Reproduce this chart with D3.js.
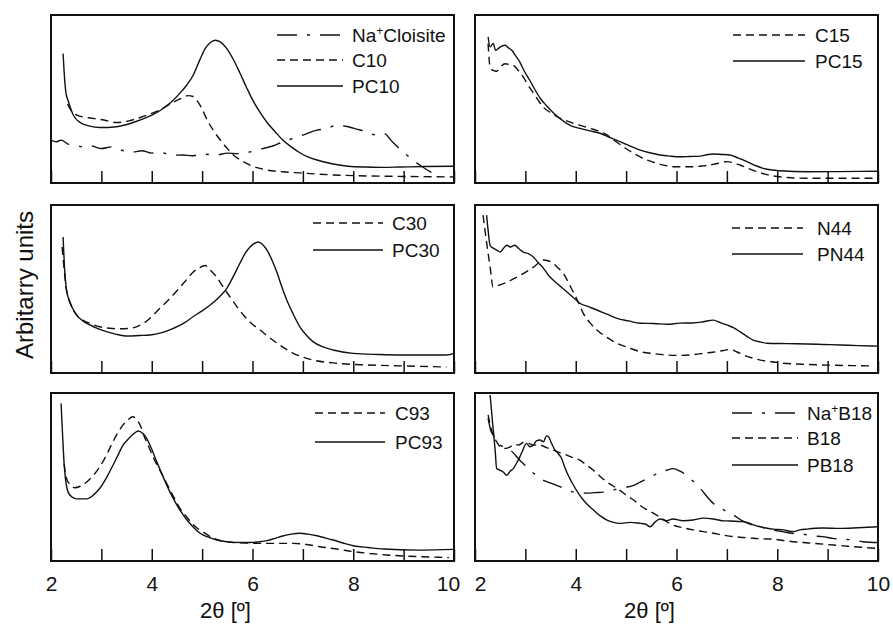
<!DOCTYPE html>
<html><head><meta charset="utf-8">
<script src="https://cdn.jsdelivr.net/npm/d3@7"></script>
<style>
body{margin:0;background:#fff}
text{font-family:"Liberation Sans",Arial,sans-serif;fill:#111}
</style>
</head><body>
<svg id="chart" width="893" height="626"></svg>
<script>
// ---------------- DATA (2θ in degrees, intensity in arbitrary units 0-100 per panel) ----------------
const xTicks = [2,3,4,5,6,7,8,9,10];
const xTickLabels = [2,4,6,8,10];
const xTitle = "2θ [º]";
const yTitle = "Arbitarry units";

// Panel 1
const NaCloisite = [[2.0,25.6],[2.1,24.5],[2.2,25.5],[2.35,23],[2.5,22.5],[2.64,21.4],[2.8,22],[3.0,20.5],[3.2,21.5],[3.4,19.5],[3.63,18.5],[3.8,19.2],[4.0,17.8],[4.2,18],[4.4,16.5],[4.62,16.7],[4.8,16.2],[5.0,17.2],[5.29,16.7],[5.5,17.8],[5.7,17.5],[5.95,18.5],[6.2,20.5],[6.4,22],[6.6,24.4],[6.8,26.5],[7.0,28.5],[7.28,31.5],[7.45,32.2],[7.68,34.5],[7.85,33.8],[8.0,32.7],[8.2,31],[8.47,28.6],[8.6,29.5],[8.8,23.8],[9.06,16.7],[9.32,10.7],[9.55,6.3]];
const C10 = [[2.33,47],[2.4,43],[2.55,40],[2.83,38.5],[3.05,37.5],[3.3,36],[3.55,37],[3.77,39],[4.0,41.5],[4.16,43.5],[4.42,48],[4.6,50.5],[4.72,52],[4.82,51.5],[4.9,49],[5.0,44],[5.1,37.5],[5.23,31],[5.36,25.6],[5.5,20.5],[5.62,16.7],[5.8,13],[5.95,10.7],[6.29,7.7],[6.6,6.7],[6.94,6],[7.6,4.8],[8.27,4.2],[9.0,3.9],[10,3.6]];
const PC10 = [[2.24,77],[2.27,62],[2.3,53],[2.34,49],[2.45,40],[2.58,36],[2.75,34],[2.97,33],[3.3,33.5],[3.63,36],[3.9,39],[4.16,43],[4.4,48.5],[4.56,53.5],[4.7,58.5],[4.82,64],[4.95,73],[5.06,80],[5.16,83.5],[5.26,85],[5.36,84],[5.49,80],[5.62,73.5],[5.75,65.5],[5.88,57],[6.01,49],[6.15,42],[6.29,36],[6.45,30.5],[6.6,25.6],[6.77,21.5],[6.94,18],[7.1,15.5],[7.28,13.7],[7.6,11.3],[7.9,10],[8.27,9.5],[8.6,9.3],[8.93,9.5],[9.4,9.8],[10,10]];

// Panel 2
const C15 = [[2.26,83],[2.3,69],[2.36,67],[2.43,66.5],[2.5,69],[2.6,71],[2.68,70.5],[2.76,70],[2.86,67],[2.96,63],[3.06,58],[3.16,53.5],[3.26,49],[3.36,45],[3.52,41.5],[3.69,38.5],[3.82,37],[3.96,35.5],[4.12,34],[4.28,32.5],[4.45,31],[4.62,28.6],[4.78,25],[4.95,21.5],[5.12,18.2],[5.28,15.6],[5.45,13.3],[5.61,11.7],[5.77,10.5],[5.93,9.7],[6.33,9.7],[6.53,10.2],[6.73,11.1],[6.87,12],[7.0,12.7],[7.13,12],[7.26,10.7],[7.43,8.6],[7.6,6.7],[7.76,5.3],[7.92,4.2],[8.2,3.3],[8.59,2.8],[9.3,2.8],[10,2.8]];
const PC15 = [[2.26,87],[2.3,81],[2.36,83],[2.41,79],[2.46,80],[2.53,81.5],[2.6,82],[2.66,80.5],[2.73,79],[2.8,76],[2.89,72],[2.98,66.5],[3.09,61],[3.19,55.5],[3.29,50.6],[3.42,46],[3.55,42],[3.68,38.5],[3.82,35.5],[3.95,33.5],[4.08,32.5],[4.28,31],[4.48,29.6],[4.68,27],[4.88,24.6],[5.08,22],[5.28,19.6],[5.47,18],[5.67,16.7],[5.87,16],[6.07,15.6],[6.27,15.8],[6.47,16],[6.6,16.8],[6.73,17.3],[6.9,17],[7.06,16.7],[7.23,14.8],[7.4,12.7],[7.56,10.5],[7.72,8.7],[7.9,7.7],[8.06,7.3],[8.59,6.7],[9.2,6.8],[10,7]];

// Panel 3
const C30 = [[2.22,75],[2.26,62],[2.3,51],[2.38,42],[2.51,34.5],[2.63,31.5],[2.77,29.6],[2.97,27.5],[3.17,26.6],[3.37,26.3],[3.57,26.6],[3.72,27.8],[3.84,29.6],[4.0,33.5],[4.16,38.5],[4.33,43.5],[4.5,49],[4.66,54.5],[4.82,60],[4.94,62.5],[5.06,64],[5.17,61],[5.29,57],[5.42,51],[5.56,45],[5.69,39.5],[5.82,34.5],[5.98,29.5],[6.15,25.6],[6.32,21.5],[6.49,17.7],[6.65,14.5],[6.81,11.7],[7.0,9.5],[7.2,7.7],[7.6,6],[8.27,4.8],[9.0,4.2],[9.85,3.6]];
const PC30 = [[2.24,81],[2.27,62],[2.3,51],[2.34,45],[2.42,39],[2.51,34.5],[2.63,31],[2.77,28.6],[2.93,26.4],[3.1,24.6],[3.3,23],[3.53,22],[3.75,22.3],[3.97,22.6],[4.2,24],[4.43,26.6],[4.63,29.5],[4.82,33.5],[5.0,37],[5.16,40.5],[5.33,45],[5.49,50.4],[5.62,57.5],[5.75,65.3],[5.85,71],[5.95,75],[6.03,77],[6.11,78],[6.2,76.5],[6.29,73],[6.39,67],[6.49,59.5],[6.58,51.5],[6.68,43.5],[6.81,35],[6.94,27.5],[7.07,22.5],[7.2,18.7],[7.4,15.5],[7.6,13.7],[8.0,11.7],[8.5,11],[8.93,10.7],[9.59,10.7],[9.85,10.7],[10,11.7]];

// Panel 4
const N44 = [[2.16,94],[2.22,80],[2.3,63],[2.36,51],[2.45,52],[2.63,54],[2.76,56],[2.89,58],[3.03,60.5],[3.16,63],[3.26,65.5],[3.36,67.3],[3.45,66.8],[3.55,65.3],[3.65,62.5],[3.75,59.5],[3.86,53.5],[3.96,47.6],[4.06,41.5],[4.15,35.5],[4.28,30],[4.42,25.6],[4.62,21.2],[4.82,17.7],[5.05,15],[5.28,12.7],[5.55,11.5],[5.81,10.7],[6.07,10.5],[6.33,10.9],[6.57,11.8],[6.8,12.7],[6.93,13.4],[7.06,14],[7.2,12.5],[7.33,10.7],[7.5,9],[7.66,7.7],[7.86,6.8],[8.06,6],[8.5,5.2],[9.0,4.7],[9.5,4.4],[9.9,4.2]];
const PN44 = [[2.23,94],[2.26,85],[2.3,76],[2.38,74],[2.44,73],[2.5,72],[2.56,74],[2.63,76],[2.7,75],[2.79,76],[2.87,74],[2.96,72],[3.06,71],[3.16,69],[3.26,65.5],[3.36,62.3],[3.45,58.5],[3.55,55.4],[3.68,52],[3.82,48.4],[3.95,45],[4.08,41.5],[4.25,39.5],[4.42,37.5],[4.62,35],[4.82,32.5],[5.05,31],[5.28,29.6],[5.55,29.5],[5.81,29],[6.07,29.7],[6.33,29.8],[6.53,30.5],[6.73,31.5],[6.87,30],[7.0,28.6],[7.13,27],[7.26,24.6],[7.39,22],[7.52,19.6],[7.66,18.5],[7.79,17.7],[8.2,17.5],[8.59,17.3],[8.9,17],[9.25,16.7],[9.6,16.3],[10,16]];

// Panel 5
const C93 = [[2.26,58],[2.3,50],[2.34,47],[2.4,45],[2.47,43.6],[2.58,44.5],[2.71,47],[2.84,51],[2.97,56],[3.1,63],[3.23,71],[3.33,76.5],[3.43,81],[3.53,84],[3.62,85.9],[3.68,85],[3.73,83],[3.79,79.5],[3.84,75],[3.94,68],[4.04,61],[4.17,53.5],[4.3,46],[4.43,38.5],[4.56,31.3],[4.7,26],[4.83,21.4],[5.03,17],[5.23,13.5],[5.42,11.8],[5.62,11],[6.0,10.6],[6.29,10.5],[6.81,10.5],[7.1,9.7],[7.34,8.5],[7.7,7],[8.0,5.6],[8.33,4.5],[8.66,3.6],[9.0,3],[9.32,2.6],[9.9,2]];
const PC93 = [[2.2,93.8],[2.23,75],[2.26,58],[2.28,51],[2.34,41],[2.42,38],[2.51,37],[2.71,37],[2.85,39.5],[2.97,43.3],[3.1,49.5],[3.23,57],[3.33,63],[3.43,69],[3.53,72.5],[3.63,75.4],[3.73,77.4],[3.82,76],[3.9,73],[4.0,66.5],[4.1,59],[4.2,52],[4.3,45],[4.4,38.8],[4.5,33.3],[4.6,28.5],[4.7,24.4],[4.83,20],[4.96,16.5],[5.12,14.2],[5.29,12.5],[5.45,11.6],[5.62,11.1],[5.95,11],[6.12,11.4],[6.29,12.1],[6.45,13.5],[6.6,14.9],[6.77,16],[6.94,16.5],[7.1,16],[7.28,15],[7.44,13.8],[7.6,12.5],[7.8,10.7],[8.0,9.1],[8.3,8],[8.6,7.1],[9.27,6.5],[9.6,6.6],[10,6.9]];

// Panel 6
const NaB18 = [[2.26,85],[2.31,78],[2.36,75],[2.43,71],[2.5,69],[2.6,67.5],[2.7,66],[2.8,63],[2.89,60],[2.99,57],[3.09,54],[3.22,51],[3.36,48],[3.49,46.5],[3.62,45],[3.79,43],[3.96,41],[4.09,40.7],[4.22,40.4],[4.38,40.7],[4.55,41],[4.71,42],[4.88,43.3],[5.01,44],[5.15,45],[5.28,47],[5.42,49],[5.55,51],[5.67,53],[5.8,54],[5.93,55],[6.07,53.5],[6.2,51],[6.33,47.5],[6.47,43.3],[6.6,38.5],[6.73,34.3],[6.87,31.5],[7.0,29.4],[7.13,27.4],[7.3,24],[7.5,21.5],[7.7,20],[7.9,18.5],[8.1,17.5],[8.3,16.5],[8.5,16],[8.7,15],[8.9,14.5],[9.1,13.5],[9.3,13],[9.5,12.5],[9.7,11.5],[10,11]];
const B18 = [[2.26,87],[2.31,80],[2.36,75],[2.43,71],[2.5,68],[2.6,67],[2.7,68],[2.78,69.5],[2.86,69],[2.96,70.5],[3.06,70],[3.17,69],[3.29,69],[3.42,67.5],[3.55,66],[3.68,64.5],[3.82,63],[3.95,61.5],[4.08,60],[4.22,57],[4.35,54],[4.48,50.5],[4.62,47],[4.75,44.5],[4.88,42],[5.01,39],[5.15,36.3],[5.28,33],[5.42,30.4],[5.55,28.3],[5.67,26.2],[5.8,23.5],[5.93,21.4],[6.13,19.8],[6.33,18.5],[6.53,17.5],[6.73,16.5],[6.93,15.4],[7.13,14.5],[7.33,14],[7.52,13.5],[7.72,13.2],[7.92,13],[8.12,12.2],[8.32,11.5],[8.52,11],[8.72,10.5],[8.92,10],[9.12,9.5],[9.32,9],[9.51,8.5],[9.75,8],[10,7.5]];
const PB18 = [[2.3,98.8],[2.35,82],[2.4,66],[2.43,55],[2.5,54],[2.56,53],[2.63,51],[2.7,53.5],[2.76,55],[2.83,58.5],[2.89,62],[2.95,66],[3.02,70],[3.09,68],[3.16,69],[3.22,71.5],[3.29,72],[3.36,71],[3.42,74.5],[3.46,74],[3.52,70],[3.59,66],[3.65,64],[3.72,61],[3.78,56],[3.85,51],[3.92,47],[3.99,43.3],[4.07,39.5],[4.15,36.3],[4.25,33],[4.35,30.4],[4.48,27],[4.62,24.4],[4.75,23],[4.88,22.4],[5.08,23],[5.28,22.4],[5.38,22],[5.48,20.4],[5.57,23],[5.67,25],[5.8,24],[5.93,25],[6.13,24],[6.33,24.4],[6.53,25.5],[6.73,25],[6.9,24],[7.06,23.8],[7.23,23.5],[7.4,23],[7.53,21.5],[7.66,20.4],[7.8,19.5],[7.92,19],[8.12,18.5],[8.32,17.5],[8.45,18.5],[8.59,19],[8.9,19.6],[9.25,19.4],[9.6,19.8],[10,20.4]];

// ---------------- LAYOUT ----------------
const W = 893, H = 626;
const cols = [[51,454],[475,878]];
const rows = [[15,183],[205,373],[393,561]];
const dashes = {solid:null, dashed:"8,5", dashdot:"20,10,3,10"};

const panels = [
  {c:0,r:0, series:[{n:"Na+Cloisite",sup:true,d:NaCloisite,s:"dashdot"},{n:"C10",d:C10,s:"dashed"},{n:"PC10",d:PC10,s:"solid"}],
   leg:{x0:-177,x1:-111,tx:-102,ys:[35,60,86]}},
  {c:1,r:0, series:[{n:"C15",d:C15,s:"dashed"},{n:"PC15",d:PC15,s:"solid"}],
   leg:{x0:-145,x1:-73,tx:-63,ys:[35,61]}},
  {c:0,r:1, series:[{n:"C30",d:C30,s:"dashed"},{n:"PC30",d:PC30,s:"solid"}],
   leg:{x0:-141,x1:-71,tx:-62,ys:[223,250]}},
  {c:1,r:1, series:[{n:"N44",d:N44,s:"dashed"},{n:"PN44",d:PN44,s:"solid"}],
   leg:{x0:-146,x1:-75,tx:-61,ys:[228,254]}},
  {c:0,r:2, series:[{n:"C93",d:C93,s:"dashed"},{n:"PC93",d:PC93,s:"solid"}],
   leg:{x0:-139,x1:-69,tx:-59,ys:[413,442]}},
  {c:1,r:2, series:[{n:"Na+B18",sup:true,d:NaB18,s:"dashdot"},{n:"B18",d:B18,s:"dashed"},{n:"PB18",d:PB18,s:"solid"}],
   leg:{x0:-146,x1:-80,tx:-71,ys:[413,438,465]}}
];

const svg = d3.select("#chart");
svg.append("rect").attr("width",W).attr("height",H).attr("fill","#fff");

panels.forEach(p => {
  const [x0,x1] = cols[p.c], [y0,y1] = rows[p.r];
  const x = d3.scaleLinear().domain([2,10]).range([x0,x1]);
  const y = d3.scaleLinear().domain([0,100]).range([y1,y0]);
  const g = svg.append("g");

  // ticks inside
  const ax = g.append("g").attr("transform",`translate(0,${y1})`)
    .call(d3.axisBottom(x).tickValues(xTicks).tickSize(-12).tickFormat(""));
  ax.select(".domain").remove();
  ax.selectAll(".tick line").attr("stroke","#111").attr("stroke-width",1.5);

  if (p.r === 2) {
    const al = g.append("g").attr("transform",`translate(0,${y1})`)
      .call(d3.axisBottom(x).tickValues(xTickLabels).tickSize(0).tickPadding(15).tickFormat(d3.format("d")));
    al.select(".domain").remove();
    al.selectAll("text").attr("font-size",21).attr("font-family","Liberation Sans, Arial, sans-serif").attr("fill","#111")
      .attr("dx", d => (p.c === 0 && d === 10) ? -6 : (p.c === 1 && d === 2) ? 5 : 0);
    g.append("text").attr("x",x(6)-27).attr("y",618).attr("text-anchor","middle")
      .attr("font-size",22).text(xTitle);
  }

  // curves
  const line = d3.line().x(d=>x(d[0])).y(d=>y(d[1])).curve(d3.curveMonotoneX);
  p.series.forEach(s => {
    g.append("path").datum(s.d).attr("d",line).attr("fill","none")
      .attr("stroke","#111").attr("stroke-width",1.4)
      .attr("stroke-dasharray",dashes[s.s]);
  });

  // border
  g.append("rect").attr("x",x0).attr("y",y0).attr("width",x1-x0).attr("height",y1-y0)
    .attr("fill","none").attr("stroke","#111").attr("stroke-width",2);

  // legend
  p.series.forEach((s,i) => {
    const ly = p.leg.ys[i];
    g.append("line").attr("x1",x1+p.leg.x0).attr("x2",x1+p.leg.x1).attr("y1",ly).attr("y2",ly)
      .attr("stroke","#111").attr("stroke-width",1.4).attr("stroke-dasharray",dashes[s.s]);
    const t = g.append("text").attr("x",x1+p.leg.tx).attr("y",ly).attr("dy","0.35em").attr("font-size",19);
    if (s.sup) {
      const parts = s.n.split("+");
      t.append("tspan").text(parts[0]);
      t.append("tspan").attr("font-size",12).attr("dy",-7).text("+");
      t.append("tspan").attr("dy",7).text(parts[1]);
    } else t.text(s.n);
  });
});

svg.append("text").attr("transform","translate(33,285) rotate(-90)").attr("text-anchor","middle")
  .attr("font-size",24).text(yTitle);
</script>
</body></html>
